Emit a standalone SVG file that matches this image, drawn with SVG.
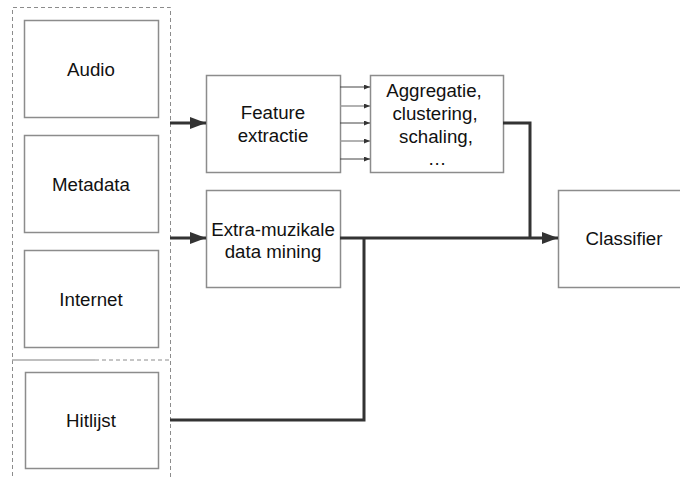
<svg xmlns="http://www.w3.org/2000/svg" width="680" height="478" viewBox="0 0 680 478">
  <defs>
    <marker id="bigArrowW" viewBox="0 0 10 10" refX="10" refY="5" markerWidth="16" markerHeight="12" markerUnits="userSpaceOnUse" orient="auto" preserveAspectRatio="none">
      <path d="M0,0 L10,5 L0,10 z" fill="#333"/>
    </marker>
    <marker id="smallArrow" viewBox="0 0 10 10" refX="10" refY="5" markerWidth="6" markerHeight="5" markerUnits="userSpaceOnUse" orient="auto" preserveAspectRatio="none">
      <path d="M0,0 L10,5 L0,10 z" fill="#333"/>
    </marker>
  </defs>
  <style>
    .box { fill: #fff; stroke: #8c8c8c; stroke-width: 1.5; }
    .group { fill: none; stroke: #8c8c8c; stroke-width: 1; stroke-dasharray: 4 3; }
    .label { font-family: "Liberation Sans", Arial, sans-serif; font-size: 18.7px; fill: #111; text-anchor: middle; }
    .thick { fill: none; stroke: #333; stroke-width: 3; }
    .thin { fill: none; stroke: #444; stroke-width: 1; }
    .thinGray { fill: none; stroke: #999; stroke-width: 1.5; }
  </style>

  <rect width="680" height="478" fill="#fff"/>

  <!-- dashed source grouping -->
  <g id="sources">
    <path class="group" d="M12.5,490 V7.5 H170.5 V490"/>
    <path d="M12,360 H95" stroke="#aaa" stroke-width="1.5" fill="none"/>
    <path class="group" d="M95,360 H170" stroke-width="1.5"/>
  </g>

  <g id="audio">
    <rect class="box" x="24.5" y="20.5" width="134" height="97"/>
    <text class="label" x="91" y="76">Audio</text>
  </g>
  <g id="metadata">
    <rect class="box" x="24.5" y="135.5" width="134" height="97"/>
    <text class="label" x="91" y="191">Metadata</text>
  </g>
  <g id="internet">
    <rect class="box" x="24.5" y="250.5" width="134" height="97"/>
    <text class="label" x="91" y="306">Internet</text>
  </g>
  <g id="hitlijst">
    <rect class="box" x="25.5" y="372.5" width="133" height="96"/>
    <text class="label" x="91" y="427">Hitlijst</text>
  </g>

  <g id="feature-extractie">
    <rect class="box" x="206.5" y="75.5" width="134" height="97"/>
    <text class="label" x="273" y="119">Feature</text>
    <text class="label" x="273" y="142">extractie</text>
  </g>
  <g id="aggregatie">
    <rect class="box" x="370.5" y="75.5" width="133" height="97"/>
    <text class="label" x="434" y="97">Aggregatie,</text>
    <text class="label" x="435" y="120">clustering,</text>
    <text class="label" x="436" y="143">schaling,</text>
    <text class="label" x="437" y="165">…</text>
  </g>
  <g id="extra-muzikaal">
    <rect class="box" x="206.5" y="190.5" width="134" height="97"/>
    <text class="label" x="273" y="236">Extra-muzikale</text>
    <text class="label" x="273" y="258">data mining</text>
  </g>
  <g id="classifier">
    <rect class="box" x="558.5" y="190.5" width="140" height="97"/>
    <text class="label" x="624" y="245">Classifier</text>
  </g>

  <g id="connectors">
    <path class="thick" d="M170,123 H206" marker-end="url(#bigArrowW)"/>
    <path class="thick" d="M170,238 H206" marker-end="url(#bigArrowW)"/>
    <path class="thin" d="M340,87 H370" marker-end="url(#smallArrow)"/>
    <path class="thinGray" d="M340,106 H370" marker-end="url(#smallArrow)"/>
    <path class="thin" d="M340,123 H370" marker-end="url(#smallArrow)"/>
    <path class="thinGray" d="M340,141 H370" marker-end="url(#smallArrow)"/>
    <path class="thin" d="M340,159 H370" marker-end="url(#smallArrow)"/>
    <path class="thick" d="M503,123 H530 V238"/>
    <path class="thick" d="M340,238 H558" marker-end="url(#bigArrowW)"/>
    <path class="thick" d="M170,420 H364 V238"/>
  </g>
</svg>
